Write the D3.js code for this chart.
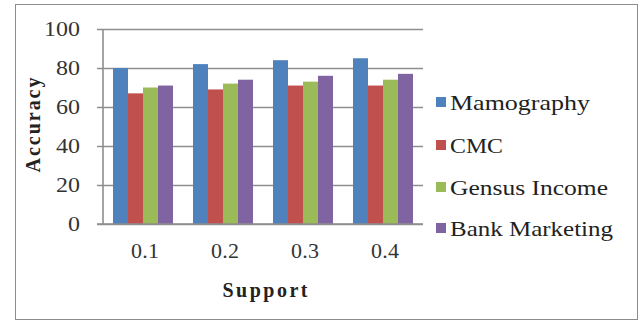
<!DOCTYPE html>
<html>
<head>
<meta charset="utf-8">
<script src="https://cdn.jsdelivr.net/npm/d3@7"></script>
<style>
  html, body { margin: 0; padding: 0; background: #fff; }
  svg { display: block; }
</style>
</head>
<body>
<svg id="chart" width="644" height="323"></svg>
<script>
// Accuracy by minimum support for four datasets
const supports = ["0.1", "0.2", "0.3", "0.4"];
const seriesNames = ["Mamography", "CMC", "Gensus Income", "Bank Marketing"];
const mamography = [80, 82, 84, 85];
const cmc = [67, 69, 71, 71];
const gensusIncome = [70, 72, 73, 74];
const bankMarketing = [71, 74, 76, 77];
const yTicks = [0, 20, 40, 60, 80, 100];
const colors = ["#4F81BD", "#C0504D", "#9BBB59", "#8064A2"];

const seriesValues = [mamography, cmc, gensusIncome, bankMarketing];
const legendWidths = [140, 53, 158, 163];
const FONT = "'Liberation Serif'";

const svg = d3.select("#chart");

// outer chart frame
svg.append("rect")
  .attr("x", 15.5).attr("y", 4.5)
  .attr("width", 622).attr("height", 315)
  .attr("fill", "#fff").attr("stroke", "#8c8c8c").attr("stroke-width", 1);

const plot = { left: 103, right: 423, top: 29, bottom: 224 };

const x0 = d3.scaleBand().domain(supports)
  .range([plot.left, plot.right]).paddingInner(0.25).paddingOuter(0.125);
const x1 = d3.scaleBand().domain(d3.range(seriesNames.length))
  .range([0, x0.bandwidth()]);
const y = d3.scaleLinear().domain([0, 100]).range([plot.bottom, plot.top]);

// horizontal gridlines with short outside ticks
const yAxis = d3.axisLeft(y).tickValues(yTicks)
  .tickSize(-(plot.right - plot.left)).tickSizeOuter(0).tickFormat("");
const gy = svg.append("g").attr("transform", `translate(${plot.left},0)`).call(yAxis);
gy.select(".domain").remove();
gy.selectAll(".tick line")
  .attr("x1", -6)
  .attr("stroke", "#8e8e8e").attr("stroke-width", 1.6);

// y tick labels
svg.append("g").selectAll("text").data(yTicks).join("text")
  .style("font-family", FONT)
  .attr("x", 80).attr("y", d => y(d)).attr("dy", "0.33em")
  .attr("text-anchor", "end")
  .attr("font-size", 22).attr("fill", "#333")
  .attr("textLength", d => String(d).length * 12)
  .attr("lengthAdjust", "spacingAndGlyphs")
  .text(d => d);

// bars
const groups = svg.append("g").selectAll("g").data(supports).join("g")
  .attr("transform", d => `translate(${x0(d)},0)`);
groups.selectAll("rect")
  .data((d, i) => seriesValues.map((vals, s) => ({ s, v: vals[i] })))
  .join("rect")
  .attr("x", d => x1(d.s))
  .attr("y", d => y(d.v))
  .attr("width", x1.bandwidth())
  .attr("height", d => y(0) - y(d.v))
  .attr("fill", d => colors[d.s]);

// vertical axis line and baseline
svg.append("line")
  .attr("x1", plot.left).attr("x2", plot.left)
  .attr("y1", plot.top).attr("y2", plot.bottom)
  .attr("stroke", "#8e8e8e").attr("stroke-width", 1.6);
svg.append("line")
  .attr("x1", plot.left - 6).attr("x2", plot.right)
  .attr("y1", plot.bottom).attr("y2", plot.bottom)
  .attr("stroke", "#8e8e8e").attr("stroke-width", 1.6);

// x tick labels
svg.append("g").selectAll("text").data(supports).join("text")
  .style("font-family", FONT)
  .attr("x", d => x0(d) + x0.bandwidth() / 2 + 2)
  .attr("y", 258)
  .attr("text-anchor", "middle")
  .attr("font-size", 22).attr("fill", "#333")
  .attr("textLength", 28)
  .text(d => d);

// axis titles
svg.append("text")
  .style("font-family", FONT)
  .attr("x", 265).attr("y", 297)
  .attr("text-anchor", "middle")
  .attr("font-size", 20).attr("font-weight", "bold").attr("fill", "#222")
  .attr("textLength", 85)
  .text("Support");

svg.append("text")
  .style("font-family", FONT)
  .attr("transform", "translate(40,125) rotate(-90)")
  .attr("text-anchor", "middle")
  .attr("font-size", 20).attr("font-weight", "bold").attr("fill", "#222")
  .attr("textLength", 95)
  .text("Accuracy");

// legend
const legendY = [102, 145, 187, 228];
const legend = svg.append("g").selectAll("g").data(seriesNames).join("g")
  .attr("transform", (d, i) => `translate(440,${legendY[i]})`);
legend.append("rect")
  .attr("x", -4).attr("y", -5).attr("width", 10).attr("height", 10)
  .attr("fill", (d, i) => colors[i]);
legend.append("text")
  .style("font-family", FONT)
  .attr("x", 10).attr("y", 0).attr("dy", "0.35em")
  .attr("font-size", 22).attr("fill", "#222")
  .attr("textLength", (d, i) => legendWidths[i])
  .attr("lengthAdjust", "spacingAndGlyphs")
  .text(d => d);
</script>
</body>
</html>
